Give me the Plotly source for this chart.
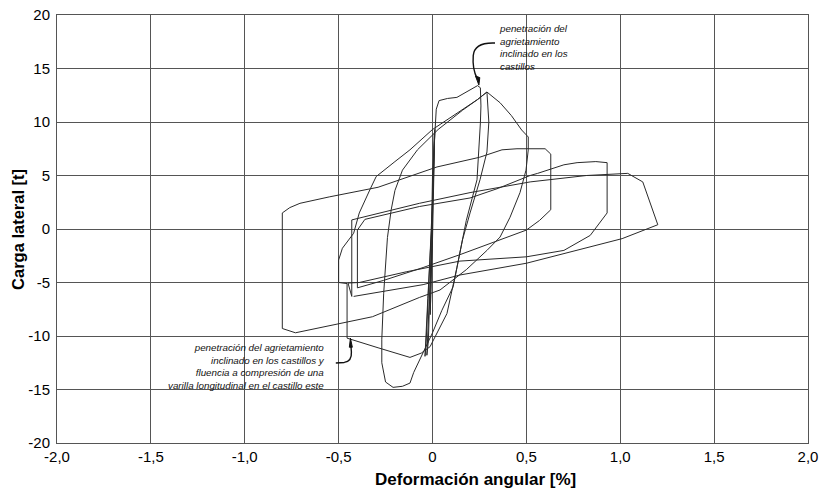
import plotly.graph_objects as go

# ---- data: hysteresis path, split into cycles (drift %, lateral load t) ----
cyc0_x = [0.0, 0.004, 0.0, -0.006, 0.0, 0.008, 0.002, -0.012, -0.006, 0.01, 0.004,
          -0.022, -0.03, -0.018, 0.0, 0.012, 0.006, -0.035, -0.04, -0.025, -0.005, 0.0]
cyc0_y = [0.0, 3.5, 1.0, -4.0, -1.0, 6.5, 3.0, -8.0, -4.0, 9.0, 5.0,
          -10.5, -11.8, -7.0, -1.0, 9.3, 5.0, -11.0, -11.9, -6.5, 0.0, 5.0]

cyc1_x = [0.0, 0.012, 0.02, 0.035, 0.08, 0.13, 0.18, 0.22, 0.24, 0.255, 0.258, 0.255,
          0.237, 0.18, 0.13, 0.077, -0.013, -0.06, -0.12, -0.29, -0.455]
cyc1_y = [5.0, 9.5, 11.2, 12.0, 12.2, 12.3, 12.8, 13.2, 13.4, 13.2, 11.5, 9.9,
          4.6, 0.8, -3.6, -7.9, -11.0, -11.6, -12.0, -11.1, -10.2]

cyc2_x = [-0.455, -0.455, -0.50, -0.50, -0.48, -0.42, -0.39, -0.33, -0.30, -0.2,
          -0.12, 0.0, 0.15, 0.24, 0.29]
cyc2_y = [-10.2, -5.1, -5.0, -2.9, -1.8, -0.4, 1.5, 3.8, 4.9, 6.3,
          7.4, 9.3, 11.0, 12.1, 12.8]

cyc3_x = [0.29, 0.30, 0.29, 0.253, 0.2, 0.16, 0.11, 0.05, 0.0, -0.06, -0.10, -0.12,
          -0.16, -0.21, -0.25, -0.27, -0.27, -0.26, -0.24, -0.22, -0.2, -0.16, -0.08,
          0.03, 0.16, 0.24, 0.29]
cyc3_y = [12.8, 10.0, 7.2, 4.6, 1.5, -1.0, -5.4, -7.6, -9.7, -12.0, -13.4, -14.4,
          -14.7, -14.8, -14.3, -12.5, -10.3, -6.0, -0.8, 1.8, 3.6, 5.5, 7.4,
          9.3, 11.1, 12.1, 12.8]

cyc4_x = [0.29, 0.36, 0.42, 0.475, 0.51, 0.51, 0.498, 0.466, 0.413, 0.36, 0.29, 0.18,
          0.04, -0.07, -0.32, -0.73, -0.80]
cyc4_y = [12.8, 11.8, 10.6, 9.25, 8.6, 7.4, 5.5, 3.4, 1.1, -0.75, -2.0, -3.8,
          -5.7, -6.4, -8.2, -9.7, -9.3]

cyc5_x = [-0.80, -0.80, -0.76, -0.706, -0.55, -0.29, 0.024, 0.25, 0.37, 0.45, 0.60,
          0.63, 0.63, 0.57, 0.50, 0.146, -0.05, -0.26, -0.40]
cyc5_y = [-9.3, 1.5, 2.0, 2.4, 3.0, 3.9, 5.8, 6.7, 7.4, 7.5, 7.5,
          7.0, 1.8, 0.8, -0.1, -2.4, -3.6, -4.8, -5.5]

cyc6_x = [-0.40, -0.40, -0.36, -0.07, 0.2, 0.35, 0.52, 0.56, 0.7, 0.77, 0.87, 0.93,
          0.93, 0.84, 0.70, 0.50, 0.146, -0.14, -0.39, -0.45, -0.43]
cyc6_y = [-5.5, -0.1, 0.9, 2.1, 2.9, 3.8, 5.0, 5.2, 6.0, 6.2, 6.3, 6.2,
          1.5, -0.6, -2.0, -2.6, -3.0, -4.0, -5.0, -5.05, -6.3]

cyc7_x = [-0.43, -0.43, -0.28, -0.07, 0.2, 0.52, 0.82, 0.97, 1.04, 1.12, 1.20,
          1.01, 0.50, 0.146, -0.05, -0.42]
cyc7_y = [-6.3, 0.85, 1.5, 2.4, 3.4, 4.4, 5.0, 5.1, 5.2, 4.4, 0.4,
          -0.9, -3.2, -4.3, -5.2, -6.3]

x_tickvals = [-2.0, -1.5, -1.0, -0.5, 0.0, 0.5, 1.0, 1.5, 2.0]
x_ticktext = ["-2,0", "-1,5", "-1,0", "-0,5", "0", "0,5", "1,0", "1,5", "2,0"]
y_tickvals = [-20, -15, -10, -5, 0, 5, 10, 15, 20]
y_ticktext = ["-20", "-15", "-10", "-5", "0", "5", "10", "15", "20"]

x_title = "Deformación angular [%]"
y_title = "Carga lateral [t]"
note_top = ["penetración del", "agrietamiento", "inclinado en los", "castillos"]
note_bottom = ["penetración del agrietamiento", "inclinado en los castillos y",
               "fluencia a compresión de una", "varilla longitudinal en el castillo este"]

xs = cyc0_x + cyc1_x + cyc2_x + cyc3_x + cyc4_x + cyc5_x + cyc6_x + cyc7_x
ys = cyc0_y + cyc1_y + cyc2_y + cyc3_y + cyc4_y + cyc5_y + cyc6_y + cyc7_y

FONT = "Liberation Sans, Arial, sans-serif"
GRID = "#555555"

fig = go.Figure()
fig.add_trace(go.Scatter(x=xs, y=ys, mode="lines",
                         line=dict(color="#2a2a2a", width=1), showlegend=False,
                         hoverinfo="skip"))

annotations = [
    dict(x=0.3435, y=17.0, xref="x", yref="y", text="<br>".join(note_top),
         showarrow=False, xanchor="left", yanchor="middle", align="left",
         font=dict(family=FONT, size=9.8, color="#111", style="italic")),
    dict(x=-0.562, y=-12.85, xref="x", yref="y", text="<br>".join(note_bottom),
         showarrow=False, xanchor="right", yanchor="middle", align="right",
         font=dict(family=FONT, size=9.8, color="#111", style="italic")),
    dict(x=0.5566, y=-0.0864, xref="paper", yref="paper", text="<b>" + x_title + "</b>",
         showarrow=False, xanchor="center", yanchor="middle",
         font=dict(family=FONT, size=17, color="#000")),
    dict(x=-0.052, y=0.5, xref="paper", yref="paper", text="<b>" + y_title + "</b>",
         showarrow=False, xanchor="center", yanchor="middle", textangle=-90,
         font=dict(family=FONT, size=16.5, color="#000")),
]

shapes = [
    dict(type="path", xref="x", yref="y",
         path="M 0.333 17.38 C 0.28 17.42, 0.222 17.25, 0.217 16.2 C 0.213 15.3, 0.222 14.6, 0.238 14.05",
         line=dict(color="#111", width=1.4)),
    dict(type="path", xref="x", yref="y",
         path="M 0.247 13.45 L 0.229 14.3 L 0.252 14.15 Z",
         fillcolor="#111", line=dict(color="#111", width=1)),
    dict(type="path", xref="x", yref="y",
         path="M -0.515 -12.52 L -0.47 -12.47 C -0.443 -12.4, -0.43 -12.05, -0.432 -11.5 L -0.434 -11.0",
         line=dict(color="#111", width=1.4)),
    dict(type="path", xref="x", yref="y",
         path="M -0.437 -10.2 L -0.443 -11.05 L -0.427 -11.05 Z",
         fillcolor="#111", line=dict(color="#111", width=1)),
]

fig.update_layout(
    width=820, height=492,
    margin=dict(l=57, r=12, t=15, b=49, autoexpand=False),
    paper_bgcolor="white", plot_bgcolor="white",
    font=dict(family=FONT, color="#000"),
    annotations=annotations, shapes=shapes,
    xaxis=dict(range=[-2, 2], tickvals=x_tickvals, ticktext=x_ticktext,
               showgrid=True, gridcolor=GRID, gridwidth=1, automargin=False,
               zeroline=False, showline=True, linecolor=GRID, linewidth=1, mirror=True,
               ticks="", ticklabeloverflow="allow",
               tickfont=dict(family=FONT, size=15, color="#000")),
    yaxis=dict(range=[-20, 20], tickvals=y_tickvals, ticktext=y_ticktext,
               showgrid=True, gridcolor=GRID, gridwidth=1, automargin=False,
               zeroline=False, showline=True, linecolor=GRID, linewidth=1, mirror=True,
               ticks="", ticklabelstandoff=3, ticklabeloverflow="allow",
               tickfont=dict(family=FONT, size=15, color="#000")),
)

# remove the page's default body margin so the 820x492 figure fills the window
fig.write_html("out.html",
               config={"displayModeBar": False, "staticPlot": True},
               post_script="document.body.style.margin='0px';document.body.style.overflow='hidden';")
